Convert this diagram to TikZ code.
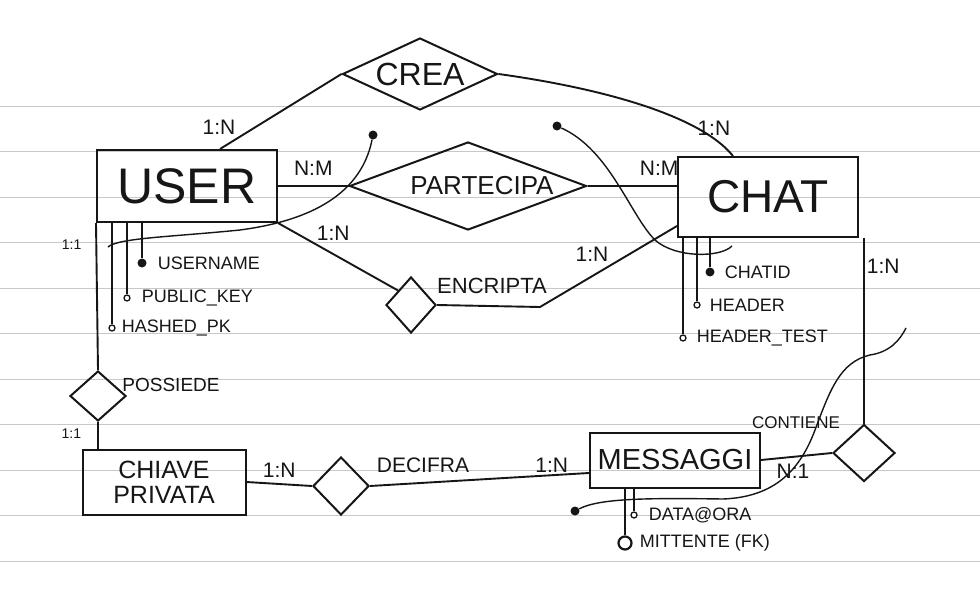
\documentclass[tikz,border=0pt]{standalone}
\usepackage{fontspec}
\setmainfont{Liberation Sans}
\usetikzlibrary{shapes.geometric, positioning, calc}
\definecolor{inkblack}{RGB}{22,22,22}
\definecolor{ruleline}{RGB}{200,200,200}
\newcommand{\fsz}[1]{\fontsize{#1}{#1}\selectfont}

\begin{document}
\begin{tikzpicture}[x=1pt, y=-1pt,
  entity/.style={draw=inkblack, line width=2pt, inner sep=0pt, text=inkblack},
  rel/.style={diamond, draw=inkblack, line width=2pt, inner sep=0pt},
  conn/.style={draw=inkblack, line width=1.9pt},
  card/.style={font=\fsz{21}, inner sep=2pt, text=inkblack},
  relname/.style={inner sep=0pt, text=inkblack},
  attrlbl/.style={font=\fsz{18}, inner sep=1pt, text=inkblack},
  keydot/.style={circle, fill=inkblack, inner sep=0pt, minimum size=9pt},
  attrdot/.style={circle, draw=inkblack, line width=1.3pt, fill=white, inner sep=0pt, minimum size=6pt},
  idcurve/.style={draw=inkblack, line width=1.4pt}
]
  %% Paper with ruling
  \useasboundingbox (0,0) rectangle (980,602);
  \fill[white] (0,0) rectangle (980,602);
  \foreach \k in {0,...,10}
    \draw[ruleline, line width=0.9pt] (0,{106+45.5*\k}) -- (980,{106+45.5*\k});

  %% Entities
  \node[entity, minimum width=180pt, minimum height=72pt, font=\fsz{50}] (user) at (187,186) {USER};
  \node[entity, minimum width=180pt, minimum height=80pt, font=\fsz{46}] (chat) at (768,197) {CHAT};
  \node[entity, minimum width=163pt, minimum height=65pt, align=center,
        font={\fontsize{25}{25}\selectfont}] (chiave) at (164,482) {CHIAVE\\PRIVATA};
  \node[entity, minimum width=170pt, minimum height=55pt, font=\fsz{29}] (msg) at (675,460) {MESSAGGI};

  %% Relationships
  \node[rel, minimum width=155pt, minimum height=72pt] (crea) at (420,74) {};
  \node[relname, font=\fsz{32}] (crea-txt) at (crea) {CREA};
  \node[rel, minimum width=237pt, minimum height=88pt] (part) at (468,186) {};
  \node[relname, font=\fsz{26}] (part-txt) at ([xshift=14pt]part.center) {PARTECIPA};
  \node[rel, minimum width=50pt, minimum height=56pt] (encr) at (411,305) {};
  \node[relname, font=\fsz{22}] (encr-txt) at (492,286) {ENCRIPTA};
  \node[rel, minimum width=56pt, minimum height=50pt] (poss) at (98,396) {};
  \node[relname, font=\fsz{19}] (poss-txt) at (171,385) {POSSIEDE};
  \node[rel, minimum width=56pt, minimum height=58pt] (decif) at (341,486) {};
  \node[relname, font=\fsz{21}] (decif-txt) at (423,465) {DECIFRA};
  \node[rel, minimum width=62pt, minimum height=57pt] (cont) at (864,453) {};
  \node[relname, font=\fsz{17}] (cont-txt) at (796,423) {CONTIENE};

  %% Connectors with cardinalities
  \draw[conn] ([xshift=33pt]user.north) -- node[card, pos=0.15, above left]{1:N} (crea.west);
  \draw[conn] (crea.east) .. controls (600,88) and (700,115) .. node[card, pos=0.85, above]{1:N} ([xshift=-35pt]chat.north);
  \draw[conn] (user.east |- part.west) -- node[card, above=8pt]{N:M} (part.west);
  \draw[conn] (part.east) -- node[card, pos=0.8, above=8pt]{N:M} (part.east -| chat.west);
  \draw[conn] (user.south east) -- node[card, pos=0.3, above right]{1:N} (encr.north west);
  \coordinate (encr-bend) at (540,307);
  \draw[conn] (encr.east) -- (encr-bend) -- node[card, pos=0.52, above left]{1:N} ([yshift=12pt]chat.south west);
  \draw[conn] (user.south west) -- node[card, font=\fsz{14}, pos=0.15, left=12pt]{1:1} (poss.north);
  \draw[conn] (poss.south) -- node[card, font=\fsz{14}, pos=0.45, left=14pt]{1:1} (poss.south |- chiave.north);
  \draw[conn] (chiave.east) -- node[card, above=4pt]{1:N} (decif.west);
  \draw[conn] (decif.east) -- node[card, pos=0.83, above]{1:N} ([yshift=-13pt]msg.west);
  \draw[conn] (msg.east) -- node[card, pos=0.45, below=4pt]{N:1} (cont.west);
  \draw[conn] (cont.north) -- node[card, pos=0.85, right]{1:N} (cont.north |- chat.south);

  %% Attributes of USER
  \node[keydot]  (uname) at (142,263) {};
  \node[attrdot] (upub)  at (127,298) {};
  \node[attrdot] (uhash) at (112,328) {};
  \foreach \a in {uname, upub, uhash}
    \draw[conn] (\a |- user.south) -- (\a);
  \node[attrlbl, right=10pt of uname] (uname-t) {USERNAME};
  \node[attrlbl, right=10pt of upub]  (upub-t)  {PUBLIC\_KEY};
  \node[attrlbl, right=5pt of uhash]  (uhash-t) {HASHED\_PK};

  %% Attributes of CHAT
  \node[keydot]  (cid)   at (710,272) {};
  \node[attrdot] (chead) at (697,305) {};
  \node[attrdot] (ctest) at (683,338) {};
  \foreach \a in {cid, chead, ctest}
    \draw[conn] (\a |- chat.south) -- (\a);
  \node[attrlbl, right=9pt of cid]   (cid-t)   {CHATID};
  \node[attrlbl, right=8pt of chead] (chead-t) {HEADER};
  \node[attrlbl, right=9pt of ctest] (ctest-t) {HEADER\_TEST};

  %% Attributes of MESSAGGI
  \node[attrdot] (mdate) at (634,515) {};
  \node[attrdot, line width=2.2pt, minimum size=13pt] (msend) at (625,543) {};
  \foreach \a in {mdate, msend}
    \draw[conn] (\a |- msg.south) -- (\a);
  \node[attrlbl, right=10pt of mdate] (mdate-t) {DATA@ORA};
  \node[attrlbl, right=6pt of msend]  (msend-t) {MITTENTE (FK)};

  %% Identifier curves
  \node[keydot] (id-user) at (373,135) {};
  \coordinate (id-user-end) at (108,247);
  \draw[idcurve] (id-user) .. controls (360,200) and (300,222) .. (240,230)
    .. controls (170,237) and (118,238) .. (id-user-end);
  \node[keydot] (id-chat) at (557,126) {};
  \coordinate (id-chat-end) at (732,246);
  \draw[idcurve] (id-chat) .. controls (610,150) and (630,215) .. (655,240)
    .. controls (675,258) and (720,258) .. (id-chat-end);
  \node[keydot] (id-msg) at (575,511) {};
  \coordinate (id-msg-end) at (906,328);
  \draw[idcurve] (id-msg) .. controls (600,498) and (650,498) .. (723,499)
    .. controls (775,497) and (800,470) .. (815,430)
    .. controls (830,390) and (840,362) .. (870,355)
    .. controls (890,352) and (900,340) .. (id-msg-end);
\end{tikzpicture}
\end{document}
